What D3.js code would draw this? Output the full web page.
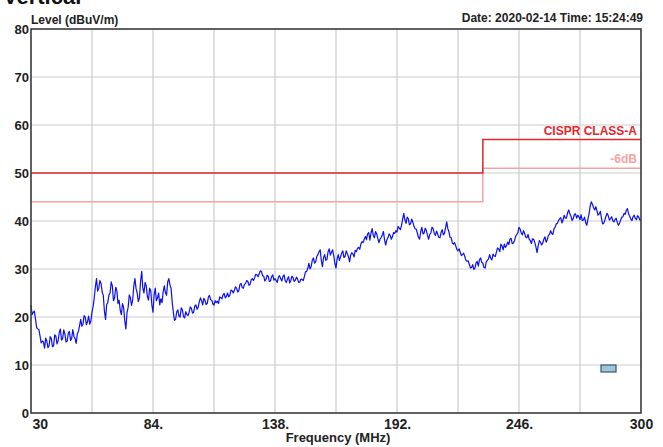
<!DOCTYPE html>
<html>
<head>
<meta charset="utf-8">
<script src="https://cdn.jsdelivr.net/npm/d3@7"></script>
<style>
  html, body { margin: 0; padding: 0; background: #fff; }
  svg { display: block; }
</style>
</head>
<body>
<svg id="chart" width="663" height="447"></svg>
<script>
// ---- data ----
const title = "Vertical";
const yAxisTitle = "Level (dBuV/m)";
const xAxisTitle = "Frequency (MHz)";
const dateText = "Date: 2020-02-14  Time: 15:24:49";
const yTickValues = [0, 10, 20, 30, 40, 50, 60, 70, 80];
const xGridValues = [30, 57, 84, 111, 138, 165, 192, 219, 246, 273, 300];
const xTickValues = [30, 84, 138, 192, 246, 300];
const xTickLabels = ["30", "84.", "138.", "192.", "246.", "300"];

// limit lines (MHz, dBuV/m)
const limitFreq = [30, 230, 230, 300];
const limitLevel = [50, 50, 57, 57];
const limit6Level = [44, 44, 51, 51];
const limitName = "CISPR CLASS-A";
const limit6Name = "-6dB";

// measured trace, 0.5 MHz steps from 30 MHz
const traceStartMHz = 30;
const traceStepMHz = 0.5;
const traceLevel = [
  22.5,20.5, 21,21.2, 19.5,17.8, 17.5,17.4, 16,14.6, 15,14.8, 13.5,15.6, 15,13.6, 14,15.9, 15.5,13.8,   // 30
  14,16.3, 16,14.4, 15,16.8, 17.5,15.2, 15.5,17.3, 16.5,14.8, 15,16.6, 17,15.1, 15.5,17.4, 16,15.5,     // 40
  14.5,16.5, 17,18.2, 19.5,18.1, 18.5,20.3, 20,18.4, 19,20.2, 18.5,19.2, 21,22.2, 24,26.3, 28,25.4,     // 50
  26,27.6, 27,25.2, 24.5,21.2, 19.5,22.6, 23,24.6, 25,27.3, 26.5,23.4, 24,26.2, 25.5,22.8, 23.5,21.4,   // 60
  20.5,22.8, 22,19.2, 17.5,20.9, 22,24.6, 24,22.4, 23.5,26.5, 28,25.9, 25,23.2, 24,27.4, 29.5,26,       // 70
  25,27.2, 26.5,24.3, 23.5,26, 25.5,22.5, 21,24.6, 26,23.4, 24,25, 22.5,23.8, 23,25.2, 26.5,25.1,       // 80
  24.5,27.3, 28,26.7, 26,23.1, 21,19.3, 19.5,21.1, 21.5,20.2, 20,21.9, 21.5,20.1, 19.8,21.1, 20.5,20.3, // 90
  21,22.1, 21.8,20.8, 21,22.3, 22.5,21.6, 22,23.2, 24,23.4, 22.5,23.9, 23.5,22.6, 22.8,24.1, 24.5,23.6, // 100
  23.5,22.7, 22.5,23.4, 23,23.3, 22.8,24.2, 24,23.8, 24.6,24.9, 24,24.3, 25,24.2, 24.5,25.6, 25.5,25,   // 110
  25.5,26.3, 26,25.2, 25.5,26.8, 27,26.1, 26,26.8, 27,27.6, 27.4,26.6, 26.8,27.8, 28,27.6, 28.2,28.9,   // 120
  28.8,28.4, 29,29.6, 29.5,28.6, 28.5,27.5, 27.8,28.7, 28.5,27.4, 27.5,28.4, 28.8,27.7, 28,27.6, 27.2,28.3, // 130
  28.6,28, 27.5,28.4, 28.8,27.6, 27.2,27.9, 28.4,27.1, 27.6,28.5, 28.2,27.4, 27.7,28.3, 27.9,27.2, 27.3,27.9, // 140
  27.8,27.6, 28.4,29.4, 29.5,30.1, 31.2,30, 30.5,31.8, 32.3,31.2, 31.5,32.6, 33,33.6, 34,31.8, 30.5,32.4, // 150
  33,31.8, 32,33.6, 34.2,32.9, 33.5,34, 32.8,31.2, 30.2,32.1, 33,31.8, 32.5,33.3, 33.8,32.4, 32.6,33.8, // 160
  33.2,32.6, 31.5,32.9, 33.4,33.1, 32.5,33.9, 33.6,34.3, 34.5,34.1, 35.2,35.7, 35.5,36.2, 36.8,36.1, 37.3,37.6, // 170
  36,37.5, 38.4,37, 36.5,37.8, 37.3,36.4, 35.5,36.2, 36.6,37.1, 37.8,36, 35,36.1, 36.5,37.3, 37,36.2,   // 180
  36.8,37.6, 37.4,38, 37.7,38.9, 38.5,38.2, 39.1,40.4, 41.6,40.2, 39.5,40.8, 40.5,39.2, 39.4,40.4, 39.8,38.9, // 190
  38.4,38.3, 37.5,36.6, 36.2,37.8, 38.7,37.3, 37.5,38.5, 38,37, 36.2,37.2, 37.5,38.7, 38.4,37.4, 37,37.9, // 200
  37.3,36.6, 36.5,37.6, 38.2,37.1, 37.4,38.6, 39.8,38.4, 37.7,36.6, 36.5,35.4, 35.2,35.5, 34.8,34.1, 33.8,34.2, // 210
  33.5,32.8, 33,33.3, 32.6,31.8, 31.6,31.7, 31,30.2, 30.3,30.9, 29.9,30.2, 31.3,31.6, 30.6,31.9, 32.3,31.4, // 220
  31.2,30.3, 30.2,31.5, 31.8,32.1, 33,32.2, 31.9,33.1, 32.7,32.6, 33.5,34.4, 34.2,33.6, 35.2,34.8, 34,35.2, // 230
  34.5,34.9, 35.6,35.1, 36.2,36.4, 35.3,35.4, 35.9,36.8, 37.2,37.6, 38.7,38.3, 37.5,37.1, 38,37.4, 36.6,36.5, // 240
  37.2,36.2, 35.9,35.3, 36.3,36.2, 35.5,34.6, 33.4,34.8, 35.9,35.6, 35,35.4, 36.2,36.7, 35.6,36.1, 37,37.2, // 250
  38,37.4, 37.2,38.4, 38.7,39.4, 39.5,40.1, 40.5,40.7, 39.6,40.2, 41.2,40.6, 40.6,41.7, 42.3,41.5, 41,40.1, // 260
  40.5,41.4, 41.5,40.6, 41.2,40.9, 40.3,41.3, 40.1,40.2, 40.8,39.7, 39.1,40.4, 41.5,43.1, 44,43.5, 42.8,42.3, // 270
  43,42.1, 41.2,41.5, 42,40.6, 39.4,39.5, 40.2,41, 41.6,41.1, 40.2,40.5, 40.9,40.1, 39.8,40.3, 40.6,39.7, // 280
  39.1,39.5, 40.2,40.8, 40.9,41.6, 41.4,42.2, 42.6,41.5, 41,40.4, 40.1,40.9, 41.2,40.5, 40.3,41.1, 40.8,40.2, // 290
  40.1                                                                                                   // 300
];

// ---- drawing ----
const svg = d3.select("#chart");
const L = 31, R = 641, T = 29, B = 413;
const x = d3.scaleLinear().domain([30, 300]).range([L, R]);
const y = d3.scaleLinear().domain([0, 80]).range([B, T]);

const boldFont = "'Liberation Sans', Arial, Helvetica, sans-serif";
const narrowFont = "'Liberation Sans Narrow', 'Arial Narrow', 'Liberation Sans', Arial, sans-serif";

// title, clipped at the very top as in the reference
svg.append("text").attr("x", 3).attr("y", 4)
  .attr("font-family", boldFont).attr("font-weight", "bold").attr("font-size", 22)
  .attr("fill", "#111").text(title);

// grid
const grid = svg.append("g");
grid.selectAll("line.v").data(xGridValues.slice(1, -1)).join("line")
  .attr("x1", d => x(d)).attr("x2", d => x(d)).attr("y1", T).attr("y2", B)
  .attr("stroke", "#cbcbcb").attr("stroke-width", 1.2);
grid.selectAll("line.h").data(yTickValues.slice(1, -1)).join("line")
  .attr("x1", L).attr("x2", R).attr("y1", d => y(d)).attr("y2", d => y(d))
  .attr("stroke", "#cbcbcb").attr("stroke-width", 1.2);

// limit lines
const limLine = d3.line().x(d => x(d[0])).y(d => y(d[1]));
svg.append("path").datum(limitFreq.map((f, i) => [f, limit6Level[i]]))
  .attr("d", limLine).attr("fill", "none").attr("stroke", "#f4a3a3").attr("stroke-width", 1.5);
svg.append("path").datum(limitFreq.map((f, i) => [f, limitLevel[i]]))
  .attr("d", limLine).attr("fill", "none").attr("stroke", "#e3262c").attr("stroke-width", 1.5);

svg.append("text").attr("x", R - 4).attr("y", y(limitLevel[3]) - 4)
  .attr("text-anchor", "end").attr("font-family", boldFont).attr("font-weight", "bold")
  .attr("font-size", 12).attr("fill", "#e3262c").text(limitName);
svg.append("text").attr("x", R - 4).attr("y", y(limit6Level[3]) - 5)
  .attr("text-anchor", "end").attr("font-family", boldFont).attr("font-weight", "bold")
  .attr("font-size", 12).attr("fill", "#f4a3a3").text(limit6Name);

// trace
const traceData = traceLevel.map((v, i) => [traceStartMHz + i * traceStepMHz, v]);
svg.append("path").datum(traceData)
  .attr("d", d3.line().x(d => x(d[0])).y(d => y(d[1])))
  .attr("fill", "none").attr("stroke", "#0a0ff0").attr("stroke-width", 1.2)
  .attr("stroke-linejoin", "round");

// frame
svg.append("rect").attr("x", L).attr("y", T).attr("width", R - L).attr("height", B - T)
  .attr("fill", "none").attr("stroke", "#3a3a3a").attr("stroke-width", 1.6);

// y axis labels
const yAxis = d3.axisLeft(y).tickValues(yTickValues).tickSize(0).tickPadding(2).tickFormat(d3.format("d"));
const gy = svg.append("g").attr("transform", `translate(${L},0)`).call(yAxis);
gy.select(".domain").remove();
gy.selectAll("text").attr("font-family", boldFont).attr("font-weight", "bold")
  .attr("font-size", 13).attr("fill", "#222");

// x axis labels
const xAxis = d3.axisBottom(x).tickValues(xTickValues).tickSize(0).tickPadding(6)
  .tickFormat((d, i) => xTickLabels[i]);
const gx = svg.append("g").attr("transform", `translate(0,${B})`).call(xAxis);
gx.select(".domain").remove();
gx.selectAll("text").attr("font-family", narrowFont).attr("font-weight", "bold")
  .attr("font-size", 14).attr("fill", "#222");
gx.selectAll(".tick").filter((d, i) => i === 0).select("text")
  .attr("text-anchor", "start").attr("dx", 1);

// axis titles
svg.append("text").attr("x", (L + R) / 2 + 2).attr("y", 442).attr("text-anchor", "middle")
  .attr("font-family", narrowFont).attr("font-weight", "bold").attr("font-size", 13)
  .attr("fill", "#222").text(xAxisTitle);
svg.append("text").attr("x", L).attr("y", 24)
  .attr("font-family", boldFont).attr("font-weight", "bold").attr("font-size", 12)
  .attr("fill", "#222").text(yAxisTitle);
svg.append("text").attr("x", 643).attr("y", 22).attr("text-anchor", "end")
  .attr("font-family", boldFont).attr("font-weight", "bold").attr("font-size", 12)
  .attr("fill", "#222").text(dateText);

// small marker box
svg.append("rect").attr("x", 601).attr("y", 365).attr("width", 15).attr("height", 7)
  .attr("fill", "#9ec5de").attr("stroke", "#3f5668").attr("stroke-width", 1.2);
</script>
</body>
</html>
